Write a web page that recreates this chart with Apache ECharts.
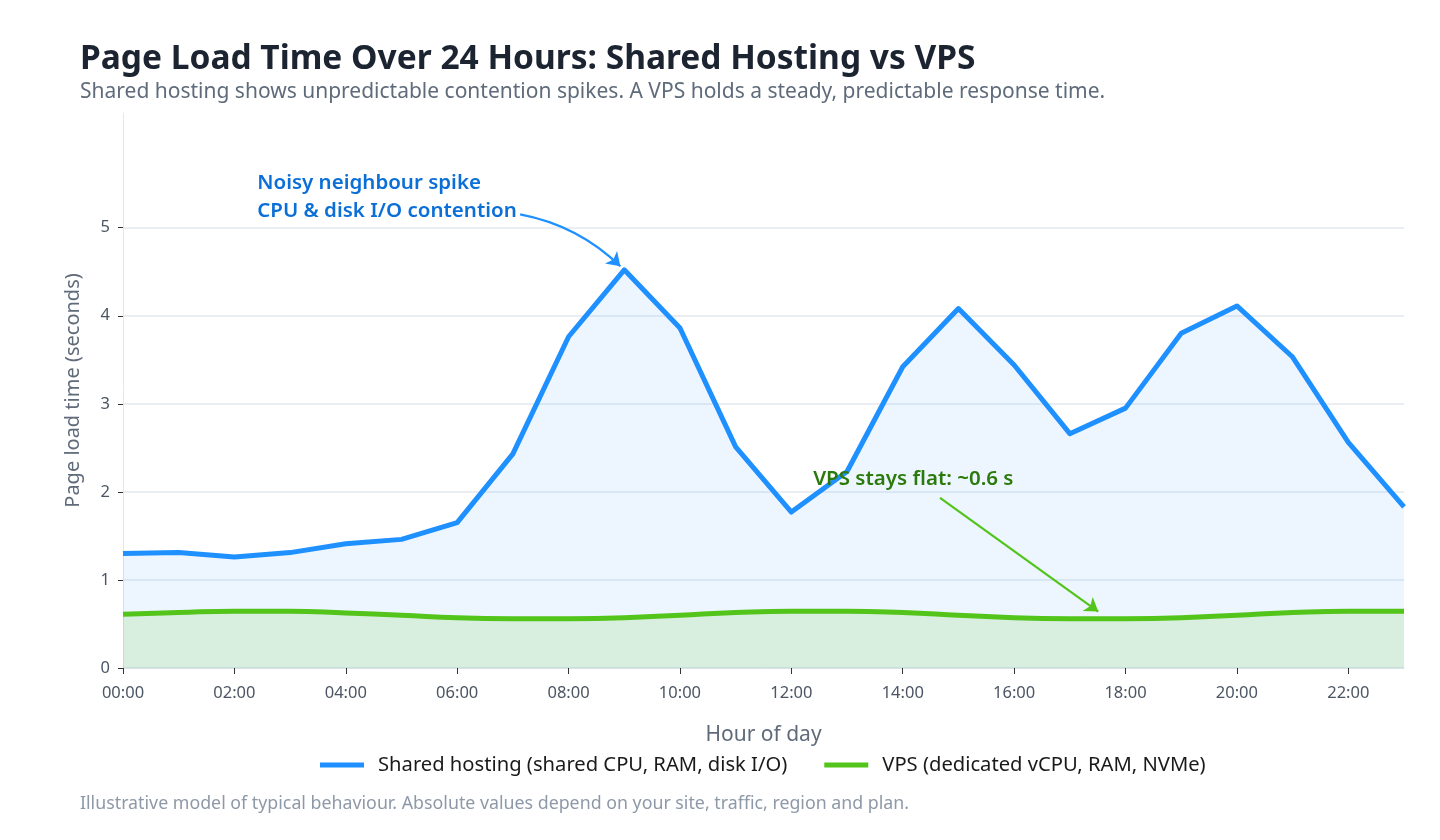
<!DOCTYPE html>
<html>
<head>
<meta charset="utf-8">
<script src="https://cdn.jsdelivr.net/npm/echarts@6/dist/echarts.min.js"></script>
<style>
html,body{margin:0;padding:0;background:#fff;}
#chart{width:1440px;height:840px;}
</style>
</head>
<body>
<div id="chart"></div>
<script>
const hours = ['00:00','01:00','02:00','03:00','04:00','05:00','06:00','07:00','08:00','09:00','10:00','11:00',
  '12:00','13:00','14:00','15:00','16:00','17:00','18:00','19:00','20:00','21:00','22:00','23:00'];
const sharedHosting = [1.30,1.31,1.26,1.31,1.41,1.46,1.65,2.43,3.76,4.52,3.86,2.51,
  1.77,2.23,3.42,4.08,3.44,2.66,2.95,3.80,4.11,3.53,2.56,1.83];
const vps = [0.61,0.63,0.645,0.645,0.625,0.60,0.57,0.56,0.56,0.57,0.60,0.63,
  0.645,0.645,0.63,0.60,0.57,0.56,0.56,0.57,0.60,0.63,0.645,0.645];
const yTicks = [0,1,2,3,4,5];
const xTicks = [0,2,4,6,8,10,12,14,16,18,20,22];
const seriesNames = ['Shared hosting (shared CPU, RAM, disk I/O)', 'VPS (dedicated vCPU, RAM, NVMe)'];

const FONT = '"Noto Sans", "Open Sans", sans-serif';
const BLUE = '#1e90ff';
const GREEN = '#52c41a';

const chart = echarts.init(document.getElementById('chart'));
const gridBase = {left: 123, right: 36, bottom: 172};

chart.setOption({
  animation: false,
  backgroundColor: '#ffffff',
  textStyle: {fontFamily: FONT},
  title: [
    {text: 'Page Load Time Over 24 Hours: Shared Hosting vs VPS', left: 80, top: 42, padding: 0,
     textStyle: {fontFamily: FONT, fontSize: 33.5, fontWeight: 'bold', color: '#1b2430'}},
    {text: 'Shared hosting shows unpredictable contention spikes. A VPS holds a steady, predictable response time.',
     left: 80, top: 82, padding: 0,
     textStyle: {fontFamily: FONT, fontSize: 21, fontWeight: 'normal', color: '#5f6b7a'}},
    {text: 'Illustrative model of typical behaviour. Absolute values depend on your site, traffic, region and plan.',
     left: 80, top: 795, padding: 0,
     textStyle: {fontFamily: FONT, fontSize: 17.8, fontWeight: 'normal', color: '#8e99a8'}}
  ],
  legend: {
    left: 320, top: 755, itemWidth: 44, itemHeight: 5, itemGap: 37, padding: 0,
    icon: 'rect',
    data: seriesNames,
    textStyle: {fontFamily: FONT, fontSize: 20.2, color: '#1a1a1a', padding: [0,0,0,9]}
  },
  grid: [
    Object.assign({top: 113}, gridBase),
    Object.assign({top: 227.7}, gridBase)
  ],
  xAxis: [
    {type: 'value', gridIndex: 0, min: 0, max: hours.length - 1,
     name: 'Hour of day', nameLocation: 'middle', nameGap: 57,
     nameTextStyle: {fontFamily: FONT, fontSize: 21, color: '#5f6b7a'},
     axisLine: {show: true, lineStyle: {color: '#dbe2ea', width: 1}},
     axisTick: {show: true, length: 6, customValues: xTicks, lineStyle: {color: '#333', width: 1}},
     axisLabel: {margin: 17, fontFamily: FONT, fontSize: 16.5, color: '#4b5563', customValues: xTicks,
       formatter: v => hours[v] || ''},
     splitLine: {show: false}},
    {type: 'value', gridIndex: 1, min: 0, max: hours.length - 1, show: false}
  ],
  yAxis: [
    {type: 'value', gridIndex: 0, min: 0, max: 6.3,
     name: 'Page load time (seconds)', nameLocation: 'middle', nameGap: 40,
     nameTextStyle: {fontFamily: FONT, fontSize: 20, color: '#5f6b7a'},
     axisLine: {show: true, lineStyle: {color: '#e3e8ef', width: 1}},
     axisTick: {show: false}, axisLabel: {show: false}, splitLine: {show: false}},
    {type: 'value', gridIndex: 1, min: yTicks[0], max: yTicks[yTicks.length - 1], interval: 1,
     axisLine: {show: false},
     axisTick: {show: true, length: 5, lineStyle: {color: '#333', width: 1}},
     axisLabel: {margin: 13, fontFamily: FONT, fontSize: 16.5, color: '#4b5563'},
     splitLine: {show: true, lineStyle: {color: '#e3e8ef', width: 1.5}}}
  ],
  series: [
    {
      name: seriesNames[0], type: 'line', xAxisIndex: 0, yAxisIndex: 0,
      data: hours.map((h, i) => [i, sharedHosting[i]]),
      smooth: false, symbol: 'none', z: 3,
      lineStyle: {color: BLUE, width: 5, join: 'round'},
      itemStyle: {color: BLUE},
      areaStyle: {color: 'rgba(30,144,255,0.11)'},
      markPoint: {
        silent: true, symbol: 'circle', symbolSize: 0,
        data: [{coord: [2.41, 5.34], value: 0}],
        label: {show: true, position: [0, 0], align: 'left', verticalAlign: 'middle',
          formatter: 'Noisy neighbour spike\nCPU & disk I/O contention',
          fontFamily: FONT, fontSize: 20.5, fontWeight: 600, color: '#0b6fd8', lineHeight: 28}
      }
    },
    {
      name: seriesNames[1], type: 'line', xAxisIndex: 0, yAxisIndex: 0,
      data: hours.map((h, i) => [i, vps[i]]),
      smooth: 0.5, symbol: 'none', z: 4,
      lineStyle: {color: GREEN, width: 5},
      itemStyle: {color: GREEN},
      areaStyle: {color: 'rgba(82,196,26,0.19)'},
      markPoint: {
        silent: true, symbol: 'circle', symbolSize: 0,
        data: [{coord: [14.19, 2.14], value: 0}],
        label: {show: true, position: [0, 0], align: 'center', verticalAlign: 'middle',
          formatter: 'VPS stays flat: ~0.6 s',
          fontFamily: FONT, fontSize: 20.5, fontWeight: 600, color: '#2b7a0b'}
      }
    },
    {
      name: 'spike-arrow', type: 'lines', coordinateSystem: 'cartesian2d', xAxisIndex: 0, yAxisIndex: 0,
      silent: true, z: 6,
      symbol: ['none', 'arrow'], symbolSize: 13,
      lineStyle: {color: BLUE, width: 2.2, opacity: 1, curveness: 0.15},
      data: [{coords: [[7.13, 5.15], [8.93, 4.56]]}]
    },
    {
      name: 'vps-arrow', type: 'lines', coordinateSystem: 'cartesian2d', xAxisIndex: 0, yAxisIndex: 0,
      silent: true, z: 6,
      symbol: ['none', 'arrow'], symbolSize: 13,
      lineStyle: {color: GREEN, width: 2.2, opacity: 1, curveness: 0},
      data: [{coords: [[14.67, 1.93], [17.51, 0.64]]}]
    }
  ]
});
</script>
</body>
</html>
